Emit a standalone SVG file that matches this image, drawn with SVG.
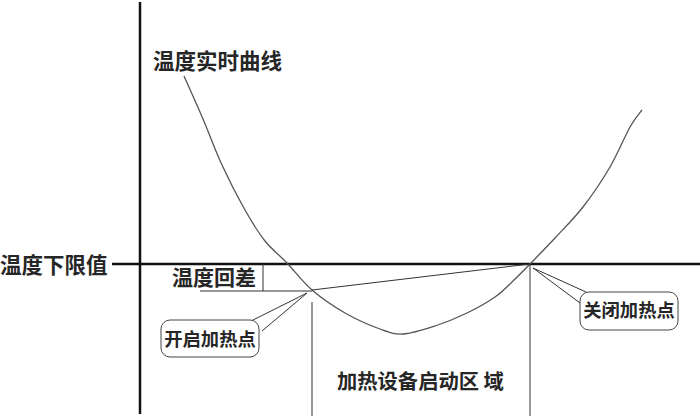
<svg xmlns="http://www.w3.org/2000/svg" width="700" height="420" viewBox="0 0 700 420">
<style>
.t{font-family:"Noto Sans CJK SC","Liberation Sans",sans-serif;font-weight:bold;fill:#262626}
.axis{stroke:#111;stroke-width:2.5;fill:none}
.thin{stroke:#333;stroke-width:1;fill:none}
.curve{stroke:#555;stroke-width:1.3;fill:none}
.box{fill:#fff;stroke:#444;stroke-width:1}
</style>
<rect width="700" height="420" fill="#fff"/>
<g id="connectors">
<line class="axis" x1="140" y1="2" x2="140" y2="414"/>
<line class="axis" x1="112" y1="264" x2="700" y2="264"/>
<path class="curve" d="M184,76 C187.2,83.2 196.7,104.2 203,119 C209.3,133.8 215,149.8 222,165 C229,180.2 237.8,197.3 245,210 C252.2,222.7 258,232.2 265,241 C272,249.8 279.2,254.8 287,263 C294.8,271.2 302.3,281.7 312,290 C321.7,298.3 333.7,306.5 345,313 C356.3,319.5 370.3,325.5 380,329 C389.7,332.5 393.8,334.5 403,334 C412.2,333.5 424.3,329.5 435,326 C445.7,322.5 457,317.8 467,313 C477,308.2 487.3,302.3 495,297 C502.7,291.7 507.2,286.5 513,281 C518.8,275.5 523,271.2 530,264 C537,256.8 546.2,247.5 555,238 C563.8,228.5 573.8,218.8 583,207 C592.2,195.2 602.2,180.3 610,167 C617.8,153.7 624.7,136.5 630,127 C635.3,117.5 640,112.8 642,110"/>
<line class="thin" x1="263" y1="264" x2="263" y2="291"/>
<line class="thin" x1="200" y1="291" x2="312" y2="291"/>
<line class="thin" x1="312" y1="290" x2="530" y2="264"/>
<line class="thin" x1="312" y1="302" x2="312" y2="416"/>
<line class="thin" x1="530" y1="264" x2="530" y2="416"/>
<polyline class="thin" points="251,321 307,293 262,331"/>
<polyline class="thin" points="586,292 533,268 580,303"/>
</g>
<g id="label-lower-limit"><text class="t" x="0" y="273" font-size="21.5">温度下限值</text></g>
<g id="label-curve"><text class="t" x="153" y="69" font-size="21.5">温度实时曲线</text></g>
<g id="label-hysteresis"><text class="t" x="172" y="285" font-size="21">温度回差</text></g>
<g id="node-start">
<rect class="box" x="161" y="320" width="98" height="37" rx="9"/>
<text class="t" x="210" y="346" font-size="18.3" text-anchor="middle">开启加热点</text>
</g>
<g id="node-stop">
<rect class="box" x="580" y="292" width="98" height="38" rx="9"/>
<text class="t" x="629" y="317" font-size="18.3" text-anchor="middle">关闭加热点</text>
</g>
<g id="label-region"><text class="t" x="337" y="389" font-size="20.3">加热设备启动区 域</text></g>
</svg>
